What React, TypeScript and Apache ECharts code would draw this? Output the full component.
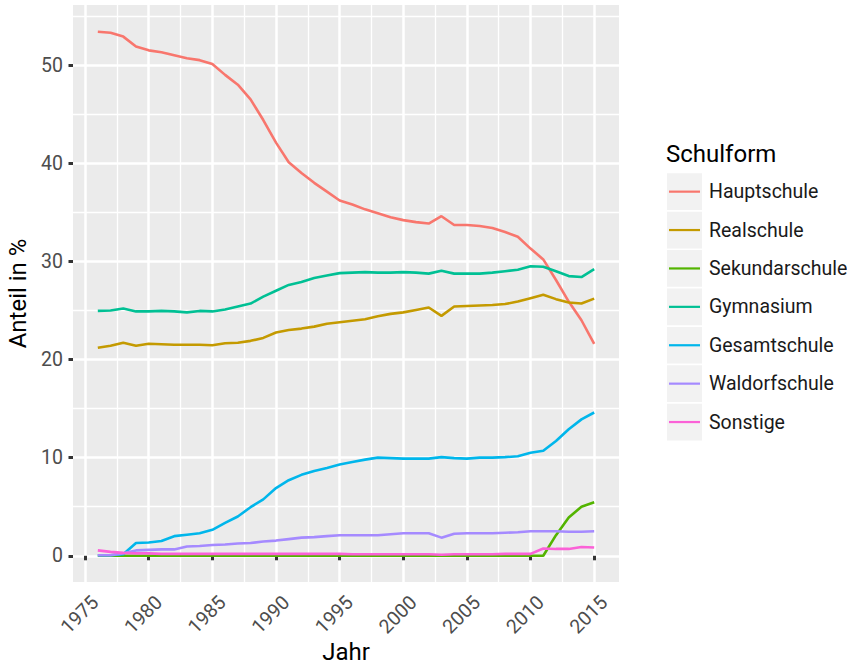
import React, { useEffect, useRef } from 'react';
import * as echarts from 'echarts';

const years = [1976, 1977, 1978, 1979, 1980, 1981, 1982, 1983, 1984, 1985, 1986, 1987, 1988, 1989, 1990, 1991, 1992, 1993, 1994, 1995, 1996, 1997, 1998, 1999, 2000, 2001, 2002, 2003, 2004, 2005, 2006, 2007, 2008, 2009, 2010, 2011, 2012, 2013, 2014, 2015];

const hauptschule = [53.4, 53.3, 52.9, 51.9, 51.5, 51.3, 51.0, 50.7, 50.5, 50.1, 49.0, 48.0, 46.5, 44.4, 42.1, 40.1, 39.0, 38.0, 37.1, 36.2, 35.8, 35.3, 34.9, 34.5, 34.2, 34.0, 33.85, 34.6, 33.7, 33.7, 33.6, 33.4, 33.0, 32.5, 31.3, 30.2, 28.1, 25.9, 24.0, 21.6];
const realschule = [21.2, 21.4, 21.7, 21.4, 21.6, 21.55, 21.5, 21.5, 21.5, 21.45, 21.65, 21.7, 21.9, 22.2, 22.75, 23.0, 23.15, 23.35, 23.65, 23.8, 23.95, 24.1, 24.4, 24.65, 24.8, 25.05, 25.3, 24.45, 25.4, 25.45, 25.5, 25.55, 25.65, 25.9, 26.25, 26.6, 26.15, 25.8, 25.7, 26.2];
const sekundarschule = [0, 0, 0, 0, 0, 0, 0, 0, 0, 0, 0, 0, 0, 0, 0, 0, 0, 0, 0, 0, 0, 0, 0, 0, 0, 0, 0, 0, 0, 0, 0, 0, 0, 0, 0, 0, 2.1, 3.9, 5.0, 5.45];
const gymnasium = [24.95, 25.0, 25.2, 24.9, 24.9, 24.95, 24.9, 24.8, 24.95, 24.9, 25.1, 25.4, 25.7, 26.4, 27.0, 27.6, 27.9, 28.3, 28.55, 28.8, 28.85, 28.9, 28.85, 28.85, 28.9, 28.85, 28.75, 29.05, 28.75, 28.75, 28.75, 28.85, 29.0, 29.15, 29.5, 29.45, 29.0, 28.5, 28.4, 29.2];
const gesamtschule = [0.05, 0.05, 0.15, 1.3, 1.35, 1.5, 2.0, 2.15, 2.3, 2.65, 3.35, 4.0, 4.95, 5.75, 6.9, 7.7, 8.25, 8.65, 8.95, 9.3, 9.55, 9.8, 10.0, 9.95, 9.9, 9.9, 9.9, 10.05, 9.95, 9.9, 10.0, 10.0, 10.05, 10.15, 10.5, 10.7, 11.7, 12.9, 13.9, 14.6];
const waldorfschule = [0.05, 0.05, 0.25, 0.55, 0.6, 0.65, 0.65, 0.95, 1.0, 1.1, 1.15, 1.25, 1.3, 1.45, 1.55, 1.7, 1.85, 1.9, 2.0, 2.1, 2.1, 2.1, 2.1, 2.2, 2.3, 2.3, 2.3, 1.85, 2.25, 2.3, 2.3, 2.3, 2.35, 2.4, 2.5, 2.5, 2.5, 2.45, 2.45, 2.5];
const sonstige = [0.55, 0.4, 0.3, 0.25, 0.25, 0.2, 0.2, 0.2, 0.2, 0.2, 0.2, 0.2, 0.2, 0.2, 0.2, 0.2, 0.2, 0.2, 0.2, 0.2, 0.15, 0.15, 0.15, 0.15, 0.15, 0.15, 0.15, 0.1, 0.15, 0.15, 0.15, 0.15, 0.2, 0.2, 0.2, 0.75, 0.7, 0.7, 0.9, 0.85];

const seriesNames = ['Hauptschule', 'Realschule', 'Sekundarschule', 'Gymnasium', 'Gesamtschule', 'Waldorfschule', 'Sonstige'];
const seriesValues = [hauptschule, realschule, sekundarschule, gymnasium, gesamtschule, waldorfschule, sonstige];
const colors = ['#F8766D', '#C49A00', '#53B400', '#00C094', '#00B6EB', '#A58AFF', '#FB61D7'];

const xMajorTicks = [1975, 1980, 1985, 1990, 1995, 2000, 2005, 2010, 2015];
const xMinorTicks = [1977.5, 1982.5, 1987.5, 1992.5, 1997.5, 2002.5, 2007.5, 2012.5];
const yMajorTicks = [0, 10, 20, 30, 40, 50];
const yMinorTicks = [5, 15, 25, 35, 45, 55];

const xTitle = 'Jahr';
const yTitle = 'Anteil in %';
const legendTitle = 'Schulform';

const X_MIN = 1974.05;
const X_MAX = 2016.95;
const Y_MIN = -2.67;
const Y_MAX = 56.12;

const FONT = 'Roboto';

export default function App() {
  const ref = useRef<HTMLDivElement>(null);
  useEffect(() => {
    if (!ref.current) return;
    const chart = echarts.init(ref.current, null, { renderer: 'svg' });
    const keyBoxes = seriesNames.map((_, i) => ({
      type: 'rect',
      left: 667,
      top: 173.3 + i * 38.4,
      shape: { width: 35, height: 36.7 },
      style: { fill: '#F2F2F2' },
      z: -1,
    }));
    const lineSeries = seriesNames.map((name, i) => ({
      name,
      type: 'line',
      xAxisIndex: 0,
      yAxisIndex: 0,
      symbol: 'none',
      showSymbol: false,
      color: colors[i],
      itemStyle: { color: colors[i] },
      lineStyle: { color: colors[i], width: 2.6 },
      data: years.map((y, j) => [y, seriesValues[i][j]]),
    }));
    const xLabelSeries = {
      name: 'xTickLabels',
      type: 'custom',
      xAxisIndex: 0,
      yAxisIndex: 0,
      clip: false,
      silent: true,
      data: xMajorTicks.map((v) => [v]),
      encode: { x: 0 },
      renderItem: (params: any, api: any) => {
        const v = api.value(0);
        const pt = api.coord([v, Y_MIN]);
        return {
          type: 'text',
          x: pt[0] + 3,
          y: pt[1] + 10,
          rotation: Math.PI / 4,
          style: {
            text: String(v),
            fontFamily: FONT,
            fontSize: 19.5,
            fill: '#4D4D4D',
            align: 'right',
            verticalAlign: 'top',
          },
        };
      },
    };
    const option: any = {
      animation: false,
      backgroundColor: '#FFFFFF',
      title: {
        text: legendTitle,
        left: 666,
        top: 142,
        padding: 0,
        textStyle: { fontFamily: FONT, fontSize: 24, fontWeight: 'normal', color: '#000000' },
      },
      grid: {
        left: 73,
        right: 228,
        top: 5,
        bottom: 83,
        containLabel: false,
        outerBoundsMode: 'none',
        show: true,
        backgroundColor: '#EBEBEB',
        borderWidth: 0,
      },
      legend: {
        orient: 'vertical',
        left: 669,
        top: 173.3,
        padding: 0,
        icon: 'rect',
        itemWidth: 31,
        itemHeight: 2.2,
        itemGap: 1.7,
        selectedMode: false,
        data: seriesNames,
        textStyle: { fontFamily: FONT, fontSize: 19.5, color: '#1A1A1A', lineHeight: 36.7, padding: [0, 0, 0, 4] },
      },
      graphic: keyBoxes,
      xAxis: [
        {
          type: 'value',
          min: X_MIN,
          max: X_MAX,
          name: xTitle,
          nameLocation: 'middle',
          nameGap: 58,
          nameTextStyle: { fontFamily: FONT, fontSize: 24, color: '#000000' },
          axisLine: { show: false },
          axisTick: { show: true, length: 4.5, lineStyle: { color: '#333333', width: 3 }, customValues: xMajorTicks },
          axisLabel: { show: false, customValues: xMajorTicks },
          splitLine: { show: true, lineStyle: { color: '#FFFFFF', width: 2.5 } },
        },
        {
          type: 'value',
          min: X_MIN,
          max: X_MAX,
          position: 'bottom',
          axisLine: { show: false },
          axisTick: { show: false, customValues: xMinorTicks },
          axisLabel: { show: false, customValues: xMinorTicks },
          splitLine: { show: true, lineStyle: { color: '#FFFFFF', width: 1.3 } },
        },
      ],
      yAxis: [
        {
          type: 'value',
          min: Y_MIN,
          max: Y_MAX,
          name: yTitle,
          nameLocation: 'middle',
          nameRotate: 90,
          nameGap: 34,
          nameTextStyle: { fontFamily: FONT, fontSize: 24, color: '#000000' },
          axisLine: { show: false },
          axisTick: { show: true, length: 4.5, lineStyle: { color: '#333333', width: 3 }, customValues: yMajorTicks },
          axisLabel: {
            customValues: yMajorTicks,
            margin: 10,
            fontFamily: FONT,
            fontSize: 19.5,
            color: '#4D4D4D',
            formatter: (v: number) => String(v),
          },
          splitLine: { show: true, lineStyle: { color: '#FFFFFF', width: 2.5 } },
        },
        {
          type: 'value',
          min: Y_MIN,
          max: Y_MAX,
          position: 'left',
          axisLine: { show: false },
          axisTick: { show: false, customValues: yMinorTicks },
          axisLabel: { show: false, customValues: yMinorTicks },
          splitLine: { show: true, lineStyle: { color: '#FFFFFF', width: 1.3 } },
        },
      ],
      series: [...lineSeries, xLabelSeries],
    };
    chart.setOption(option);
    return () => chart.dispose();
  }, []);
  return <div ref={ref} style={{ position: 'fixed', left: 0, top: 0, width: 847, height: 665 }} />;
}
